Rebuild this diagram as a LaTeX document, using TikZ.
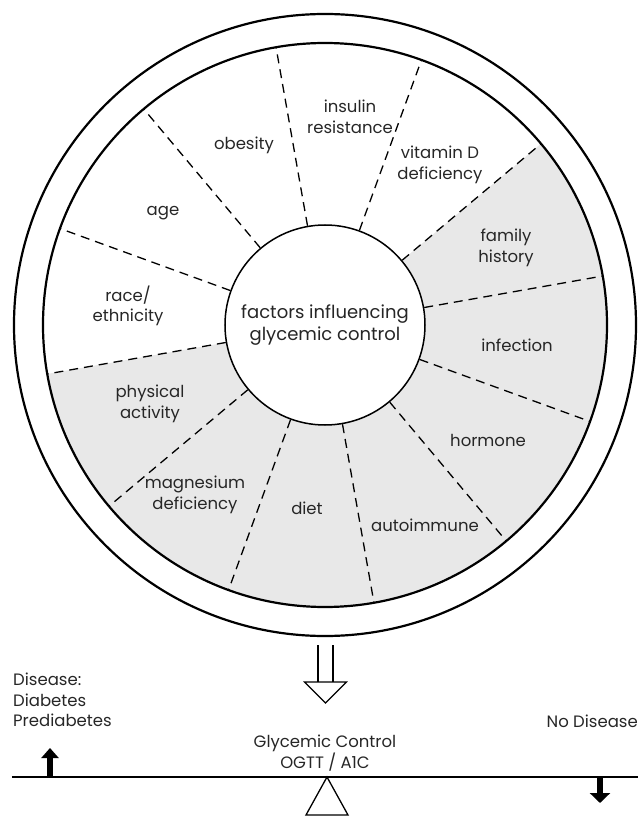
\documentclass[tikz,border=0pt]{standalone}
\usepackage{fontspec}
\setmainfont{Poppins}
\usetikzlibrary{arrows.meta}

\begin{document}
\begin{tikzpicture}[
    x=1pt, y=1pt,
    factor/.style={align=center, font=\fontsize{16.5}{20.5}\selectfont, text=black!85, inner sep=0pt},
    spoke/.style={dash pattern=on 9pt off 6pt, line width=1.3pt},
    rim/.style={line width=2.2pt},
    hub/.style={circle, draw, line width=1.5pt, fill=white, minimum size=200pt, inner sep=0pt,
                align=center, font=\fontsize{18}{22}\selectfont, text=black!85},
    >={Triangle[length=10pt, width=17pt]}
]
    \useasboundingbox (-325,-491) rectangle (313,325);

    % 灰色扇区 (family history ... physical activity)
    \fill[black!9] (190:282pt) arc[start angle=190, end angle=400, radius=282pt]
        -- (400:100pt) arc[start angle=400, end angle=190, radius=100pt] -- cycle;

    % 中心圆
    \node[hub] (hub) at (0,0) {factors influencing\\glycemic control};

    % 1. 虚线分隔
    \foreach \a in {10,40,...,340}
        \draw[spoke] (hub.\a) -- ([shift={(\a:282pt)}]hub.center);

    % 2. 两个外圈
    \draw[rim] (hub.center) circle[radius=282pt];
    \draw[rim] (hub.center) circle[radius=311pt];

    % 因素标签
    \node[factor] (insulin)   at (25,208)   {insulin\\resistance};
    \node[factor] (vitamin)   at (115,160)  {vitamin D\\deficiency};
    \node[factor] (obesity)   at (-81,180)  {obesity};
    \node[factor] (age)       at (-162,112) {age};
    \node[factor] (family)    at (181,77)   {family\\history};
    \node[factor] (race)      at (-197,19)  {race/\\ethnicity};
    \node[factor] (infection) at (192,-20)  {infection};
    \node[factor] (physical)  at (-175,-79) {physical\\activity};
    \node[factor] (hormone)   at (163,-115) {hormone};
    \node[factor] (magnesium) at (-130,-170) {magnesium\\deficiency};
    \node[factor] (diet)      at (-18,-183) {diet};
    \node[factor] (autoimm)   at (100,-200) {autoimmune};

    % 空心箭头
    \draw[line width=1.1pt] (-7,-320) -- (-7,-357) (8,-320) -- (8,-357);
    \draw[line width=1.1pt, fill=white] (0.5,-378) -- (-20.5,-357) -- (21.5,-357) -- cycle;

    % 杠杆
    \coordinate (beamL) at (-313,-452);
    \coordinate (beamR) at (313,-452);
    \draw[line width=2.5pt] (beamL) -- (beamR);
    \draw[line width=1.3pt, fill=white] (2,-452) -- (23,-490) -- (-19,-490) -- cycle;

    % 3. 上下箭头
    \draw[line width=6pt, ->] (-275,-452) -- (-275,-423);
    \draw[line width=6pt, -{Triangle[length=10pt, width=20pt]}] (275,-452) -- (275,-478);

    \node[factor, align=left, anchor=west] (disease) at (-312,-375) {Disease:\\Diabetes\\Prediabetes};
    \node[factor, anchor=east] (nodisease) at (313,-396) {No Disease};
    \node[factor] (glycemic) at (0,-428) {Glycemic Control\\OGTT / A1C};
\end{tikzpicture}
\end{document}
